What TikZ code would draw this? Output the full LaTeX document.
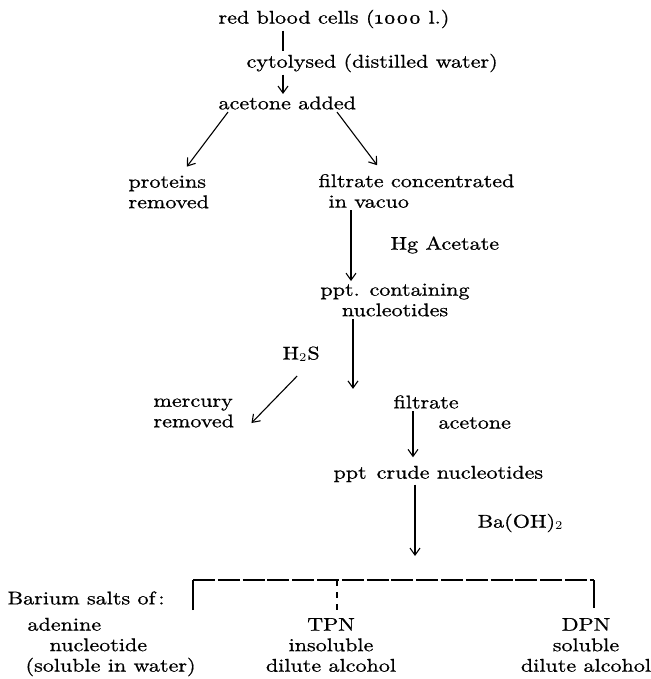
\documentclass[tikz,border=0pt]{standalone}
\usepackage{fontspec}
\setmainfont{lmroman10-regular.otf}[FakeStretch=1.2, FakeBold=0.8]
\usetikzlibrary{arrows.meta}

\begin{document}
\begin{tikzpicture}[
  x=0.5pt, y=-0.5pt,
  >={Straight Barb[length=3.5pt,width=5pt]},
  line width=0.55pt,
  font=\fontsize{9.2}{10.25}\selectfont,
  stage/.style={anchor=west, align=left, inner sep=1pt},
  pile/.style={align=center, inner sep=1pt},
  reag/.style={anchor=west, inner sep=1pt},
  rule/.style={dash pattern=on 11pt off 1.4pt}
]
\useasboundingbox (0,0) rectangle (651,679);
% main column
\node[stage] (rbc) at (216,19) {red blood cells (\oldstylenums{1000} l.)};
\node[stage] (cyto) at (244,63) {cytolysed (distilled water)};
\node[stage] (acet) at (216,103) {acetone added};
\node[stage] (prot) at (126,192) {proteins\\removed};
\node[stage] (filt) at (316,191) {filtrate concentrated\\\hspace*{5pt}in vacuo};
\node[reag] (hg) at (388,245) {Hg Acetate};
\node[pile] (pptc) at (395,300) {ppt. containing\\nucleotides};
\node[reag] (hs) at (280,354) {H$_2$S};
\node[stage] (merc) at (151,413) {mercury\\removed};
\node[stage] (filt2) at (391,402) {filtrate};
\node[reag] (acet2) at (436,423) {acetone};
\node[stage] (pptcr) at (331,474) {ppt\hspace{5pt}crude nucleotides};
\node[reag] (ba) at (475,523) {Ba(OH)$_2$};
% barium salts
\node[stage] (bar) at (5,598) {Barium salts of\,:};
\node[stage] (aden) at (23,647) {\hspace*{1pt}adenine\\\hspace*{12pt}nucleotide\\(soluble in water)};
\node[pile] (tpn) at (331,645) {TPN\\insoluble\\dilute alcohol};
\node[pile] (dpn) at (586,645) {DPN\\soluble\\dilute alcohol};

\coordinate (xa) at (283,0);
\coordinate (xb) at (228,0);
\coordinate (xc) at (182,0);
\coordinate (xd) at (337,0);
\coordinate (xe) at (382,0);
\coordinate (xf) at (351,0);
\coordinate (xg) at (353,0);
\coordinate (xh) at (413,0);
\coordinate (brk) at (415,580);
\coordinate (bl) at (193,580);
\coordinate (bm) at (337,580);
\coordinate (br) at (594,580);

\draw (rbc.south -| xa) -- (cyto.north -| xa);
\draw[->] (cyto.south -| xa) -- (acet.north -| xa);
\draw[->, shorten >=4pt] (acet.south -| xb) -- (prot.north -| xc);
\draw[->, shorten >=4pt] (acet.south -| xd) -- (filt.north -| xe);
\draw[->] (filt.south -| xf) -- (pptc.north -| xf);
\draw[->, shorten >=2pt] (pptc.south -| xg) -- (filt2.north -| xg);
\draw[->] ([xshift=-2pt,yshift=-6pt]hs.south) -- ([xshift=7.5pt,yshift=-5pt]merc.east);
\draw[->, shorten >=3pt] (filt2.south -| xh) -- (pptcr.north -| xh);
\draw[->, shorten >=12pt] (pptcr.south -| brk) -- (brk);
% bracket
\draw ([yshift=-15pt]bl) -- (bl);
\draw[rule] (bl) -- (br);
\draw (br) -- ([yshift=-14pt]br);
\draw[dashed] (bm) -- ([yshift=-15pt]bm);
\end{tikzpicture}
\end{document}
